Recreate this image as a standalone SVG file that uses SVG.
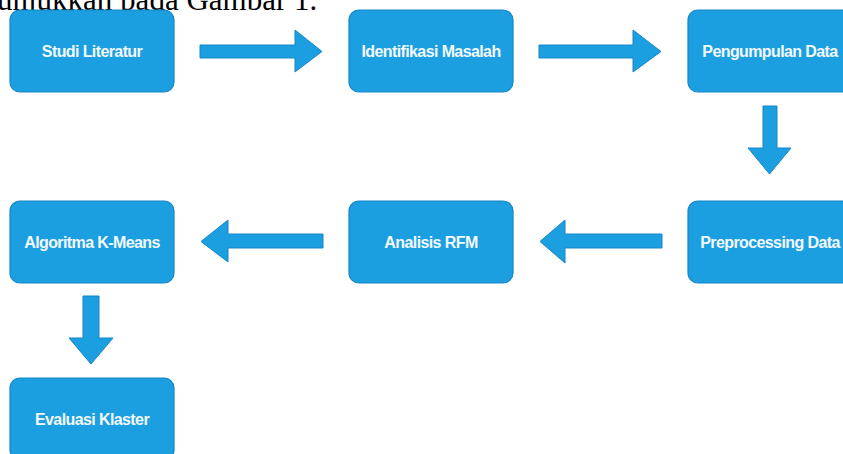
<svg xmlns="http://www.w3.org/2000/svg" width="843" height="454" viewBox="0 0 843 454">
<defs>
<style>
.box{fill:#1c9fe0;stroke:#1786c6;stroke-width:1.2}
.lbl{font-family:"Liberation Sans",Arial,sans-serif;font-weight:bold;font-size:16px;fill:#f2f9ff;text-anchor:middle;letter-spacing:-0.6px}
.arr{fill:#1c9fe0;stroke:#1786c6;stroke-width:1;stroke-linejoin:round}
.cap{font-family:"Liberation Serif","Times New Roman",serif;font-size:31px;fill:#000}
</style>
</defs>
<rect width="843" height="454" fill="#fff"/>
<text class="cap" x="-3" y="9.5">unjukkan pada Gambar 1.</text>
<g id="n1"><rect class="box" x="10" y="10" width="164" height="82" rx="10"/><text class="lbl" x="92" y="56.5">Studi Literatur</text></g>
<g id="n2"><rect class="box" x="349" y="10" width="164" height="82" rx="10"/><text class="lbl" x="431" y="56.5">Identifikasi Masalah</text></g>
<g id="n3"><rect class="box" x="688" y="10" width="164" height="82" rx="10"/><text class="lbl" x="770" y="56.5">Pengumpulan Data</text></g>
<g id="n4"><rect class="box" x="688" y="201" width="164" height="82" rx="10"/><text class="lbl" x="770" y="247.5">Preprocessing Data</text></g>
<g id="n5"><rect class="box" x="349" y="201" width="164" height="82" rx="10"/><text class="lbl" x="431" y="247.5">Analisis RFM</text></g>
<g id="n6"><rect class="box" x="10" y="201" width="164" height="82" rx="10"/><text class="lbl" x="92" y="247.5">Algoritma K-Means</text></g>
<g id="n7"><rect class="box" x="10" y="378" width="164" height="82" rx="10"/><text class="lbl" x="92" y="424.5">Evaluasi Klaster</text></g>
<g id="connectors">
<polygon class="arr" points="200,45 295,45 295,30 322,51.5 295,72 295,58 200,58"/>
<polygon class="arr" points="539,45 633,45 633,30 661,51.5 633,72 633,58 539,58"/>
<polygon class="arr" points="763,106 777,106 777,148 791,148 769.5,174 748,148 763,148"/>
<polygon class="arr" points="662,234 565,234 565,220 540,241.5 565,263 565,248 662,248"/>
<polygon class="arr" points="323,234 228,234 228,220 201,241.5 228,262 228,248 323,248"/>
<polygon class="arr" points="83,296 99,296 99,338 113,338 91,364 69,338 83,338"/>
</g>
</svg>
